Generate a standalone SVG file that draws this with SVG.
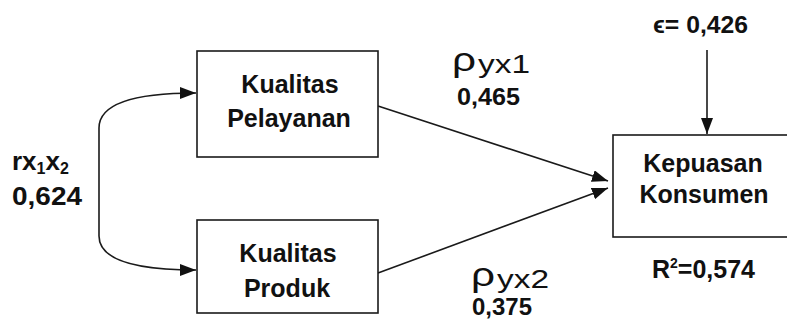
<svg xmlns="http://www.w3.org/2000/svg" width="787" height="327" viewBox="0 0 787 327">
<style>
.box{fill:#fff;stroke:#1a1a1a;stroke-width:1.6}
.lbl{font-family:"Liberation Sans",Arial,sans-serif;font-weight:bold;font-size:25px;fill:#111;text-anchor:middle}
.t{font-family:"Liberation Sans",Arial,sans-serif;fill:#111}
.b{font-weight:bold}
.edge{fill:none;stroke:#1a1a1a;stroke-width:1.6}
</style>
<defs>
<marker id="ah" viewBox="0 0 16 12" refX="16" refY="6" markerWidth="16" markerHeight="12" markerUnits="userSpaceOnUse" orient="auto-start-reverse">
<path d="M0,0 L16,6 L0,12 Z" fill="#111"/>
</marker>
</defs>
<rect width="787" height="327" fill="#fff"/>
<g id="connectors">
<path class="edge" d="M196,93 C130,93 99,105 99,128 L99,236 C99,258 130,270 196,270" marker-start="url(#ah)" marker-end="url(#ah)"/>
<line class="edge" x1="378" y1="106" x2="608" y2="181" marker-end="url(#ah)"/>
<line class="edge" x1="378" y1="273" x2="608" y2="188" marker-end="url(#ah)"/>
<line class="edge" x1="707" y1="50" x2="707" y2="134" marker-end="url(#ah)"/>
</g>
<g id="n1">
<rect class="box" x="197" y="51" width="181" height="106"/>
<text class="lbl" x="290" y="93">Kualitas</text>
<text class="lbl" x="289" y="127">Pelayanan</text>
</g>
<g id="n2">
<rect class="box" x="197" y="220" width="181" height="93"/>
<text class="lbl" x="288" y="262">Kualitas</text>
<text class="lbl" x="287" y="297">Produk</text>
</g>
<g id="n3">
<rect class="box" x="613" y="135" width="190" height="102"/>
<text class="lbl" x="703" y="172">Kepuasan</text>
<text class="lbl" x="704" y="203">Konsumen</text>
</g>
<g id="labels">
<text class="t b" x="12" y="170" font-size="26">rx<tspan font-size="16" dy="4">1</tspan><tspan dy="-4">x</tspan><tspan font-size="16" dy="4">2</tspan></text>
<text class="t b" x="12" y="205" font-size="26" textLength="70" lengthAdjust="spacingAndGlyphs">0,624</text>
<text class="t" x="452" y="71" font-size="33" textLength="24" lengthAdjust="spacingAndGlyphs">ρ</text>
<text class="t" x="478" y="73" font-size="26" textLength="52" lengthAdjust="spacingAndGlyphs">yx1</text>
<text class="t b" x="457" y="105" font-size="23" textLength="63" lengthAdjust="spacingAndGlyphs">0,465</text>
<text class="t" x="471" y="286" font-size="33" textLength="24" lengthAdjust="spacingAndGlyphs">ρ</text>
<text class="t" x="497" y="288" font-size="26" textLength="52" lengthAdjust="spacingAndGlyphs">yx2</text>
<text class="t b" x="472" y="315" font-size="23" textLength="60" lengthAdjust="spacingAndGlyphs">0,375</text>
<text class="t b" x="652" y="278" font-size="25">R<tspan font-size="14" dy="-10">2</tspan><tspan dy="10">=0,574</tspan></text>
<text class="t b" x="653" y="33" font-size="24" textLength="95" lengthAdjust="spacingAndGlyphs">ϵ= 0,426</text>
</g>
</svg>
